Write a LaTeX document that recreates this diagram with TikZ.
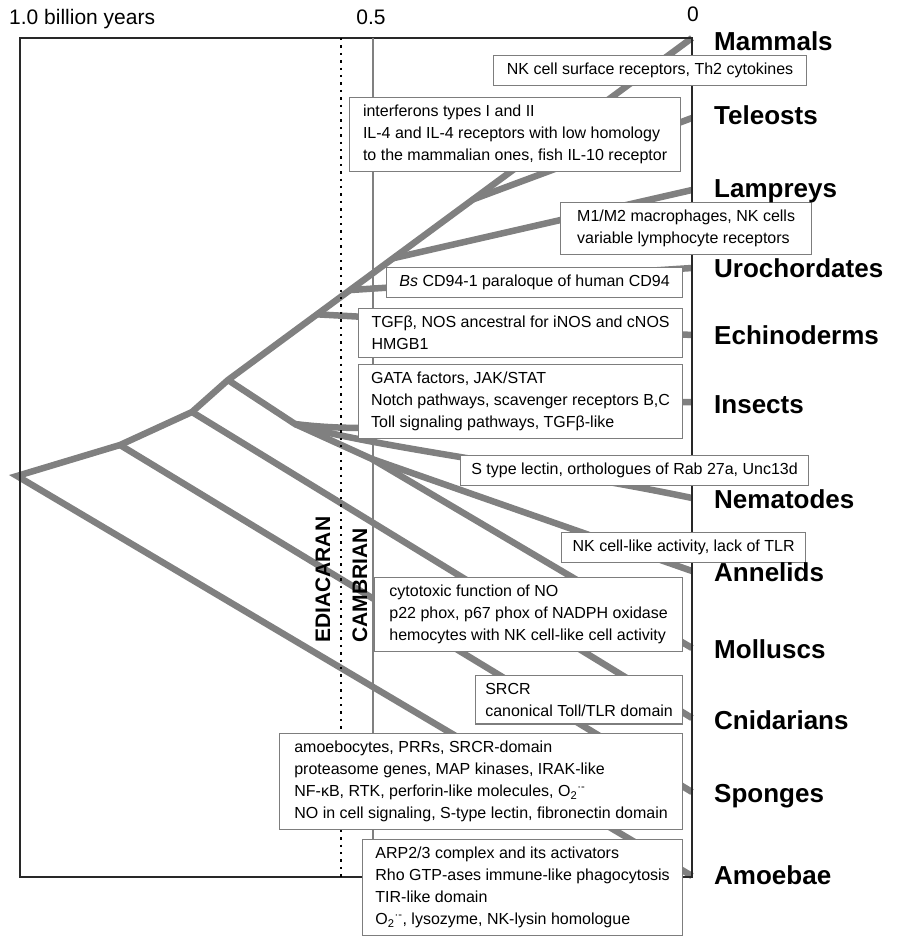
\documentclass[tikz,border=0pt]{standalone}
\usepackage{fontspec}
\setmainfont{Liberation Sans}
\usetikzlibrary{calc}
\definecolor{branchgray}{RGB}{128,128,128}
\definecolor{boxgray}{RGB}{125,125,125}
\definecolor{framegray}{RGB}{40,40,40}
\begin{document}
\begin{tikzpicture}[x=1pt,y=-1pt,
  branch/.style={line width=6.5pt, draw=branchgray},
  infobox/.style={draw=boxgray, line width=1.2pt, fill=white, anchor=north west,
    align=left, inner xsep=8pt, inner ysep=7.5pt, font=\fontsize{16}{22}\selectfont},
  taxon/.style={anchor=base west, inner sep=0pt, font=\fontsize{26}{30}\selectfont\bfseries},
  scalelabel/.style={anchor=base, inner sep=0pt, font=\fontsize{21}{24}\selectfont},
  era/.style={rotate=90, anchor=base west, inner sep=0pt, font=\fontsize{21}{24}\selectfont\bfseries}]
\useasboundingbox (0,0) rectangle (896,936);

% tree
\coordinate (root) at (17,476);
\coordinate (n1) at (120,445);
\coordinate (n2) at (192,412);
\coordinate (n3) at (228,380);
\coordinate (p1) at (295,424);
\coordinate (p2) at (372,459);
\coordinate (mam) at (692,38);
\coordinate (tel) at (692,118);
\coordinate (lam) at (692,190);
\coordinate (uro) at (692,268);
\coordinate (ech) at (692,335);
\coordinate (ins) at (692,402);
\coordinate (nem) at (692,498);
\coordinate (ann) at (692,571);
\coordinate (mol) at (692,648);
\coordinate (cni) at (692,718);
\coordinate (spo) at (692,792);
\coordinate (amo) at (692,876);
\coordinate (dech) at ($(n3)!0.192!(mam)$);
\coordinate (duro) at ($(n3)!0.263!(mam)$);
\coordinate (dlam) at ($(n3)!0.356!(mam)$);
\coordinate (dtel) at ($(n3)!0.528!(mam)$);

\draw[branch, line join=miter] (amo) -- (root) -- (n1) -- (n2) -- (n3) -- (mam);
\draw[branch] (n1) -- (spo);
\draw[branch] (n2) -- (cni);
\draw[branch, line join=round] (n3) -- (p1) -- (p2) -- (mol);
\draw[branch] (p2) -- (ann);
\draw[branch] (p1) .. controls (420,440) and (560,402) .. (ins);
\draw[branch] (p1) .. controls (360,445) and (560,470) .. (nem);
\draw[branch] (dech) -- (ech);
\draw[branch] (duro) -- (uro);
\draw[branch] (dlam) -- (lam);
\draw[branch] (dtel) -- (tel);

% frame and era boundary
\coordinate (tl) at (20,38);
\coordinate (bl) at (20,877);
\coordinate (br) at (692,877);
\coordinate (dtop) at (341,38);
\coordinate (dbot) at (341,877);
\coordinate (stop) at (373,38);
\coordinate (sbot) at (373,877);
\draw[line width=1.8pt, framegray] (bl) -- (tl) -- (mam) -- (br) -- cycle;
\draw[line width=2.4pt, dash pattern=on 2.4pt off 5pt] (dtop) -- (dbot);
\draw[line width=1.2pt, gray] (stop) -- (sbot);
\node[era] (ediacaran) at (330,643) {EDIACARAN};
\node[era] (cambrian) at (367,643) {CAMBRIAN};

% boxes
\node[infobox, minimum width=313pt] (nkbox) at (493,55) {NK cell surface receptors, Th2 cytokines};
\node[infobox, minimum width=331pt] (ifnbox) at (349,97) {interferons types I and II\\IL-4 and IL-4 receptors with low homology\\to the mammalian ones, fish IL-10 receptor};
\node[infobox, minimum width=251pt] (mbox) at (560,202) {M1/M2 macrophages, NK cells\\variable lymphocyte receptors};
\node[infobox, minimum width=296pt] (bsbox) at (386,267) {\textit{Bs} CD94-1 paraloque of human CD94};
\node[infobox, minimum width=324pt] (tgfbox) at (358,308) {TGFβ, NOS ancestral for iNOS and cNOS\\HMGB1};
\node[infobox, minimum width=324pt] (gatabox) at (358,364) {GATA factors, JAK/STAT\\Notch pathways, scavenger receptors B,C\\Toll signaling pathways, TGFβ-like};
\node[infobox, minimum width=348pt] (sbox) at (460,455) {S type lectin, orthologues of Rab 27a, Unc13d};
\node[infobox, minimum width=244pt] (nklbox) at (561,532) {NK cell-like activity, lack of TLR};
\node[infobox, minimum width=308pt] (cytobox) at (374,577) {cytotoxic function of NO\\p22 phox, p67 phox of NADPH oxidase\\hemocytes with NK cell-like cell activity};
\node[infobox, minimum width=207pt] (srcrbox) at (475,675) {SRCR\\canonical Toll/TLR domain};
\node[infobox, minimum width=403pt] (spobox) at (279,733) {amoebocytes, PRRs, SRCR-domain\\proteasome genes, MAP kinases, IRAK-like\\NF-κB, RTK, perforin-like molecules, O\textsubscript{2}\textsuperscript{·-}\\NO in cell signaling, S-type lectin, fibronectin domain};
\node[infobox, minimum width=320pt] (arpbox) at (362,839) {ARP2/3 complex and its activators\\Rho GTP-ases immune-like phagocytosis\\TIR-like domain\\O\textsubscript{2}\textsuperscript{·-}, lysozyme, NK-lysin homologue};

% taxa
\node[taxon] (lmam) at (714,51) {Mammals};
\node[taxon] (ltel) at (714,125) {Teleosts};
\node[taxon] (llam) at (714,197) {Lampreys};
\node[taxon] (luro) at (714,277) {Urochordates};
\node[taxon] (lech) at (714,344) {Echinoderms};
\node[taxon] (lins) at (714,413) {Insects};
\node[taxon] (lnem) at (714,508) {Nematodes};
\node[taxon] (lann) at (714,581) {Annelids};
\node[taxon] (lmol) at (714,658) {Molluscs};
\node[taxon] (lcni) at (714,729) {Cnidarians};
\node[taxon] (lspo) at (714,802) {Sponges};
\node[taxon] (lamo) at (714,884) {Amoebae};

% time axis
\node[scalelabel, anchor=base west] (billion) at (9,25) {1.0 billion years};
\node[scalelabel] (half) at (371,25) {0.5};
\node[scalelabel] (zero) at (693,22) {0};
\end{tikzpicture}
\end{document}
